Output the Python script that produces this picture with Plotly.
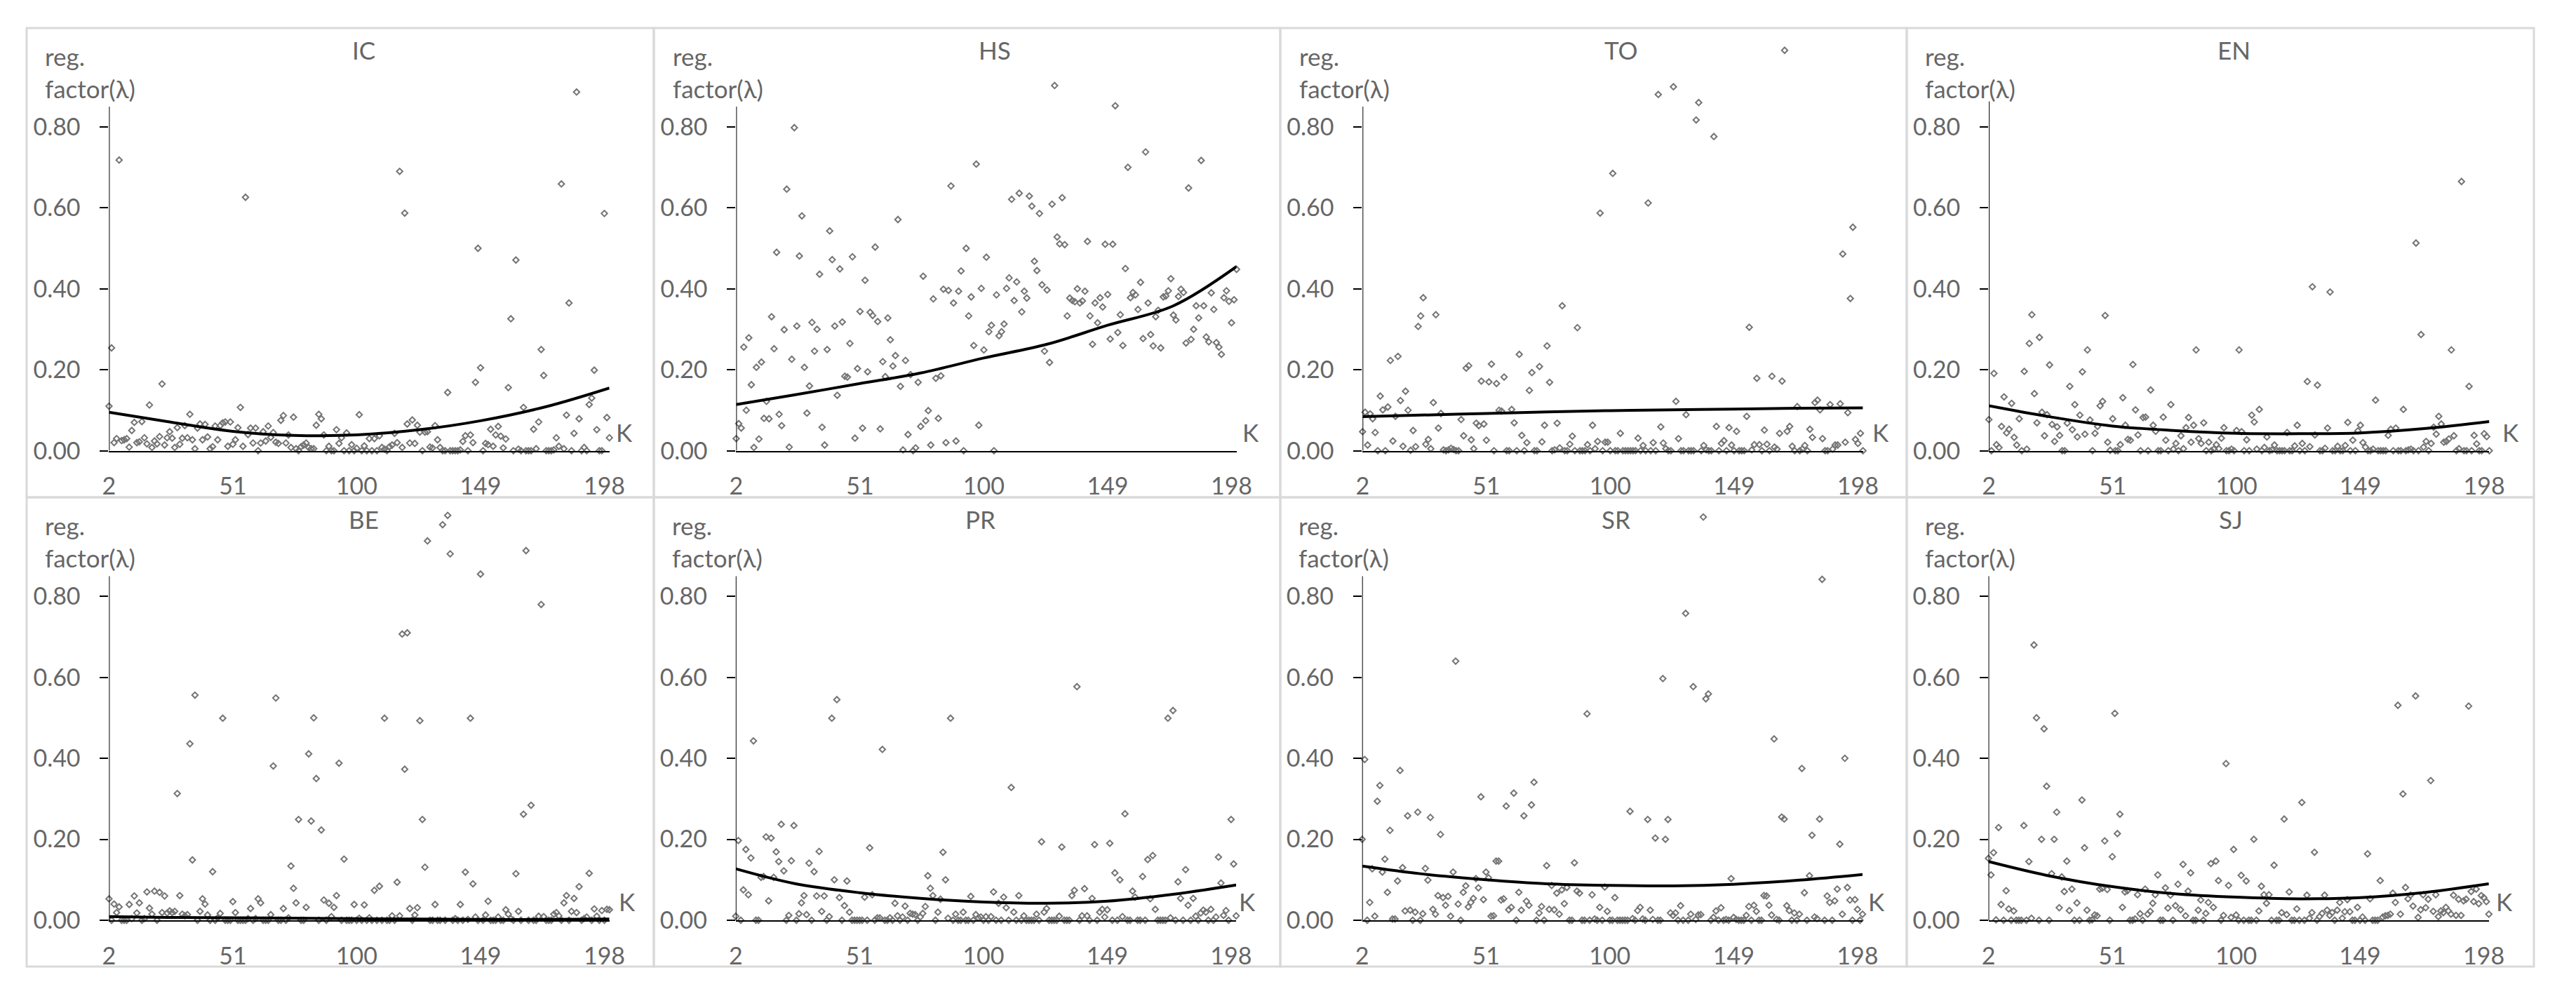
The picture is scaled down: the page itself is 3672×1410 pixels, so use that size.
import plotly.graph_objects as go

K = list(range(2, 201))
TREND_K = [2, 25, 51, 75, 100, 125, 149, 175, 200]

IC = [.11,.254,.02,.03,.718,.025,.027,.03,.009,.05,
.07,.02,.022,.072,.032,.017,.113,.008,.024,.017,
.035,.165,.014,.032,.047,.031,.008,.057,.016,.031,
.062,.032,.09,.027,.005,.056,.066,.027,.065,.034,
.005,.01,.061,.027,.062,.069,.071,.011,.071,.016,
.027,.057,.107,.011,.626,.04,.056,.019,.056,0,
.019,.047,.024,.061,.033,.045,.021,.018,.075,.087,
.019,.039,.008,.083,.005,0,.01,.014,.019,.008,
.005,.005,.063,.09,.079,.039,0,.011,0,0,
.052,.018,.032,0,.044,0,.015,0,.006,.089,
0,.012,0,.03,0,.03,0,.037,.008,.004,
0,.01,.014,.043,.02,.69,.008,.587,.066,.019,
.076,.018,.063,.046,0,.046,.047,.009,.007,.062,
.027,.008,0,0,.144,0,0,0,0,.002,
.023,.037,0,.039,.02,.169,.5,.205,0,.018,
.015,.053,.011,.039,.06,.036,.007,.029,.156,.326,
0,.471,.004,0,.107,0,0,0,.053,.005,
.071,.25,.186,0,0,0,.002,.032,.011,.659,
.005,.088,.365,0,.043,.886,.079,0,.008,0,
.114,.13,.199,.052,0,0,.586,.082,.032]

HS = [.03,.067,.056,.256,.10,.279,.163,.008,.206,.029,
.219,.08,.122,.079,.331,.252,.49,.09,.062,.299,
.646,.009,.226,.798,.308,.481,.58,.206,.093,.16,
.317,.246,.30,.436,.058,.014,.25,.543,.472,.308,
.137,.449,.318,.184,.182,.265,.479,.031,.203,.344,
.056,.421,.195,.342,.334,.503,.319,.054,.22,.183,
.328,.274,.209,.235,.571,.159,.002,.223,.04,.188,
0,.007,.169,.06,.431,.074,.099,.014,.375,.179,
.08,.185,.399,.02,.396,.654,.365,.024,.394,.444,
0,.50,.333,.38,.26,.708,.063,.401,.249,.478,
.294,.31,0,.385,.284,.294,.313,.401,.427,.621,
.371,.417,.636,.343,.394,.377,.629,.604,.468,.445,
.586,.41,.246,.397,.218,.609,.902,.528,.511,.625,
.509,.333,.377,.371,.368,.40,.365,.37,.394,.517,
.333,.263,.365,.316,.378,.355,.51,.386,.276,.51,
.852,.292,.336,.26,.45,.70,.378,.391,.385,.349,
.416,.277,.738,.365,.287,.259,.331,.347,.254,.38,
.382,.395,.425,.335,.323,.381,.399,.391,.266,.649,
.275,.30,.358,.328,.717,.358,.281,.269,.39,.349,
.267,.256,.238,.378,.395,.369,.316,.373,.448]

TO = [.047,.095,.014,.091,.079,.045,0,.135,.101,0,
.108,.223,.024,.085,.233,.124,.011,.147,.10,.001,
.05,.01,.307,.333,.378,.016,.028,.005,.119,.336,
.056,.092,.002,0,.002,.006,.003,0,0,.077,
.037,.204,.21,.027,.005,.068,.062,.172,.066,.026,
.17,.214,0,.166,.10,.098,.182,0,0,.102,
.069,0,.238,.038,0,.02,.149,.193,0,0,
.208,.022,.063,.259,.169,0,.002,.068,.007,.358,
0,0,.016,.036,0,.304,0,0,0,.015,
0,.063,.005,.023,.587,0,.021,.021,0,.685,
0,0,.043,0,0,0,0,0,0,.031,
0,.013,0,.612,0,.02,0,.88,.059,.019,
.005,0,0,.899,.122,.03,0,0,.089,0,
0,0,.817,.86,0,.013,.002,0,0,.776,
.06,0,.018,.025,0,.057,.014,0,.048,0,
0,0,.085,.305,.002,.015,.179,.015,0,.051,
.016,0,.184,.009,.004,.043,.172,.989,.048,.06,
.011,0,.109,0,.004,.013,0,.053,.033,.119,
.125,.101,.03,0,0,.114,.004,.014,.014,.116,
.486,.021,.094,.376,.552,.028,.018,.043,0]

EN = [.077,0,.191,.015,.008,.06,.133,.044,.053,.117,
.033,.014,.079,0,.196,.004,.265,.336,.141,.069,
.28,.095,.037,.089,.212,.065,.023,.059,.038,0,
0,.068,.159,.052,.114,.034,.088,.195,.041,.249,
.076,0,.043,.06,.111,.122,.334,.021,.001,.079,
0,0,.015,.131,.063,.028,.026,.213,.101,.039,
0,.082,.083,0,.15,.063,.048,0,0,.083,
.026,0,.114,.004,.018,0,.037,.005,.057,.082,
.021,.063,.249,.03,.018,.069,0,.021,0,.004,
.015,.005,.031,.057,0,0,.004,0,.05,.249,
.047,0,.027,0,.088,.071,.004,.102,0,.008,
.034,0,.002,.014,0,0,0,0,.045,0,
0,.012,.063,0,.018,0,.171,.01,.405,.039,
.162,0,0,.006,.056,.392,0,0,.011,0,
0,.013,.07,0,.026,0,.049,.063,.02,.009,
0,0,.004,.125,0,0,0,0,.038,.053,
0,.056,0,0,.102,0,.002,.004,0,.513,
0,.287,.009,.023,0,.018,.058,.041,.085,.066,
.021,.023,.029,.249,.037,0,.005,.665,0,0,
.159,0,.038,.017,0,0,.042,.035,0]

BE = [.053,0,.04,.019,.033,0,0,0,.039,.004,
.06,.018,.043,0,.004,.07,.03,.015,.072,0,
.069,.019,.06,.018,.023,.019,.022,.313,.061,.015,
.011,.014,.436,.149,.556,0,.022,.053,.04,.013,
0,.12,0,.006,.017,.499,0,0,0,.046,
.019,0,0,0,0,.004,.029,0,.004,.053,
.043,0,0,0,.014,.381,.549,0,0,.029,
0,.006,.134,.079,.043,.249,0,0,.032,.411,
.245,.5,.35,0,.223,.05,0,.042,.009,.032,
.061,.388,0,.151,0,0,0,.039,0,.005,
0,.038,0,.006,0,.074,0,.084,0,.499,
0,0,.011,0,.094,.011,.707,.373,.71,.029,
0,.013,.031,.493,.249,.131,.937,0,0,.039,
0,0,.977,0,1.0,.905,0,.004,0,.039,
0,.119,.002,.499,.09,.008,0,.855,0,.013,
.047,0,0,0,.008,0,0,.026,.015,.004,
0,.115,.022,0,.262,.913,0,.284,0,0,
.01,.78,.009,0,0,0,.015,.019,.011,0,
.043,.061,0,.022,.054,.019,.083,0,.004,.008,
.116,0,.028,.01,0,.024,0,.027,.026]

PR = [.01,.197,0,.075,.175,.063,.154,.443,0,0,
.106,.108,.206,.048,.203,.106,.169,.145,.237,.122,
0,.012,.147,.234,0,.016,.043,.061,.014,.141,
0,.12,.06,.17,.022,.06,0,.009,.499,.1,
.545,.056,0,.036,.097,.02,0,0,0,0,
0,.057,0,.179,.063,0,.006,.006,.422,0,
0,.006,0,.042,.011,0,.008,.035,0,.017,
.015,.014,0,.008,.017,.034,.11,.079,.061,0,
.02,.052,.168,.1,.005,.499,0,.015,0,0,
.02,0,0,.059,0,.014,.006,.008,0,.009,
0,.009,.07,0,.042,0,.057,.031,0,.328,
.02,0,.061,0,.011,0,0,0,0,.015,
0,.194,.02,.029,0,0,0,0,.01,.181,
0,0,0,.061,.074,.577,0,.011,.078,.011,
0,.054,.187,0,.02,.027,.008,.026,.19,0,
.117,0,.1,.009,.263,0,0,.072,.057,0,
0,.108,0,.15,.053,.16,.027,0,0,0,
0,.499,.006,.518,0,.095,.054,0,.125,.037,
0,.054,.01,0,.018,.025,.02,0,.027,0,
.008,.156,.092,.012,.024,0,.249,.139,.011]

SR = [.2,.397,0,.044,.127,.01,.294,.333,.119,.151,
.069,.222,.003,.003,.097,.37,.13,.023,.258,.025,
0,.02,.267,0,.016,.128,.099,.254,.027,.015,
.061,.212,.056,.037,.059,.01,.119,.64,.04,0,
.069,.085,.033,.044,.054,.103,.08,.305,.051,.119,
.105,.01,.011,.146,.146,.05,.053,.282,.026,.032,
.314,0,.069,.025,.258,.047,.037,.285,.341,0,
.018,.034,0,.135,.027,.086,.026,.067,.015,.075,
.041,.081,0,0,.142,.072,.067,0,0,.51,
0,.063,.003,0,.032,0,.082,.022,0,0,
.056,0,0,0,0,0,.269,.004,0,.024,
.032,.003,0,.249,.025,.002,.203,0,0,.597,
.2,.249,.018,.012,.018,0,.036,0,.758,0,
.015,.577,.002,.013,.014,.996,.547,.559,0,.007,
.023,0,.031,0,.002,0,.103,.007,.002,0,
0,0,.012,.034,0,.037,.022,0,0,.061,
.06,.037,.013,.448,.002,0,.255,.25,.036,.024,
0,.018,0,.015,.375,.068,0,.11,.21,.008,
.004,.25,.842,0,.06,.044,0,.048,.077,.188,
.015,.4,.081,.05,0,.051,.027,0,.015]

SJ = [.153,.112,.167,.001,.229,.039,0,.073,.028,0,
.023,0,0,0,.234,0,.145,.005,.68,.5,
0,.2,.473,.331,0,.115,.2,.267,.031,.107,
.071,.146,.024,.077,0,.043,0,.297,.179,.025,
0,.001,.013,.011,.077,.079,.196,.076,0,.157,
.511,.214,.262,.032,.07,.073,0,0,.003,.063,
.016,0,.077,.015,.022,.042,.063,.112,0,0,
.08,.03,.062,0,.036,.089,.026,.138,.011,.072,
.117,0,0,.025,.05,0,.017,.044,.14,.032,
.146,.098,0,.012,.387,.086,.007,.175,.013,0,
.111,0,.097,0,0,.2,0,.023,.084,.063,
.042,.063,0,.136,0,0,.019,.25,.014,.07,
0,0,.028,0,.291,0,.062,.005,.019,.168,
0,.009,.017,.062,.025,.012,.019,0,.025,.044,
.005,.021,.051,.021,0,0,.032,0,.008,0,
.164,.053,0,0,0,.098,.008,.011,.012,.015,
.067,.044,.531,.015,.312,.081,.053,.062,.035,.554,
.007,.026,.063,.031,.052,.345,.022,.063,.009,.023,
.019,.032,.023,.015,.062,.012,.052,.012,.048,.052,
.529,.071,.046,.077,.041,.061,.056,.046,.015]

T_IC = [.095,.072,.048,.038,.039,.052,.074,.109,.155]
T_HS = [.114,.138,.166,.192,.229,.263,.31,.358,.455]
T_TO = [.084,.088,.092,.096,.099,.101,.103,.105,.106]
T_EN = [.111,.085,.061,.05,.043,.042,.044,.055,.072]
T_BE = [.009,.007,.006,.005,.004,.003,.002,.002,.003]
T_PR = [.127,.091,.068,.054,.045,.042,.047,.064,.087]
T_SR = [.134,.115,.10,.09,.086,.085,.089,.099,.113]
T_SJ = [.145,.111,.083,.066,.057,.053,.056,.069,.09]

NAMES = ["IC", "HS", "TO", "EN", "BE", "PR", "SR", "SJ"]
SERIES = [IC, HS, TO, EN, BE, PR, SR, SJ]
TRENDS = [T_IC, T_HS, T_TO, T_EN, T_BE, T_PR, T_SR, T_SJ]
Y_TICKS = [0, .2, .4, .6, .8]
Y_LABELS = ["0.00", "0.20", "0.40", "0.60", "0.80"]
X_TICKS = [2, 51, 100, 149, 198]

for s in SERIES:
    assert len(s) == len(K), len(s)

W, H = 3672, 1410
GRAY = "#666666"
FONT = "Lato"
X0 = [155.4, 1049.4, 1942.3, 2835.1, 155.4, 1048.8, 1941.7, 2834.5]
ZERO = [642.6] * 4 + [1312] * 4
PX_PER_UNIT = 577.2
AXIS_TOP = [.85, .85, .85, .863, .85, .85, .85, .85]
Y_RANGE_TOP = 1.06
WIDTH = 713.3
TITLE_X = [518, 1418, 2311, 3184, 518, 1397, 2303, 3180]
REG_X = [62, 957, 1850, 2742, 62, 956, 1849, 2742]
K_X = [890, 1783, 2681, 3579, 894, 1778, 2675, 3570]
PANEL_X = [38, 932, 1825, 2718, 3612]
PANEL_Y = [40, 709, 1378]

fig = go.Figure()
annos, shapes = [], []
def fx(p): return p / W
def fy(p): return 1 - p / H

def label(text, x, y, anchor="center"):
    annos.append(dict(text=text, x=fx(x), y=fy(y), xref="paper", yref="paper",
                      xanchor=anchor, yanchor="middle", showarrow=False,
                      font=dict(family=FONT, size=35, color=GRAY)))

layout_axes = {}
for i, name in enumerate(NAMES):
    n = "" if i == 0 else str(i + 1)
    fig.add_trace(go.Scatter(x=K, y=SERIES[i], mode="markers", xaxis="x" + n, yaxis="y" + n,
                             cliponaxis=False, showlegend=False,
                             marker=dict(symbol="diamond-open", size=6.5, color="#757575",
                                         line=dict(width=2, color="#757575"))))
    fig.add_trace(go.Scatter(x=TREND_K, y=TRENDS[i], mode="lines", xaxis="x" + n, yaxis="y" + n,
                             cliponaxis=False, showlegend=False,
                             line=dict(color="#000000", width=4, shape="spline")))
    top = ZERO[i] - Y_RANGE_TOP * PX_PER_UNIT
    layout_axes["xaxis" + n] = dict(
        domain=[fx(X0[i]), fx(X0[i] + WIDTH)], range=[2, 200], anchor="y" + n, automargin=False,
        tickvals=X_TICKS, ticktext=[str(v) for v in X_TICKS], ticks="", showgrid=False,
        zeroline=False, showline=True, linecolor="#000000", linewidth=2,
        tickfont=dict(family=FONT, size=34, color=GRAY), ticklabelstandoff=20)
    layout_axes["yaxis" + n] = dict(
        domain=[fy(ZERO[i]), fy(top)], range=[0, Y_RANGE_TOP], anchor="x" + n, automargin=False,
        tickvals=Y_TICKS, ticktext=Y_LABELS, ticks="outside", ticklen=12, tickwidth=2,
        tickcolor="#000000", showgrid=False, zeroline=False, showline=False,
        tickfont=dict(family=FONT, size=34, color=GRAY), ticklabelstandoff=21)
    shapes.append(dict(type="line", xref="x" + n, yref="y" + n, x0=2, x1=2, y0=0, y1=AXIS_TOP[i],
                       line=dict(color="#000000", width=2)))
    label(name, TITLE_X[i], ZERO[i] - 572)
    label("reg.", REG_X[i], ZERO[i] - 563, "left")
    label("factor(λ)", REG_X[i], ZERO[i] - 517, "left")
    label("K", K_X[i], ZERO[i] - 27)
    col, row = i % 4, i // 4
    shapes.append(dict(type="rect", xref="paper", yref="paper", layer="below",
                       x0=fx(PANEL_X[col]), x1=fx(PANEL_X[col + 1]),
                       y0=fy(PANEL_Y[row + 1]), y1=fy(PANEL_Y[row]),
                       line=dict(color="#d9d9d9", width=3), fillcolor="rgba(0,0,0,0)"))

fig.update_layout(template="none", width=W, height=H,
                  margin=dict(l=0, r=0, t=0, b=0, pad=0, autoexpand=False), autosize=False,
                  paper_bgcolor="#ffffff", plot_bgcolor="rgba(0,0,0,0)",
                  annotations=annos, shapes=shapes, **layout_axes)
fig.write_html("out.html", config={"displayModeBar": False},
               post_script="document.body.style.margin='0';")
